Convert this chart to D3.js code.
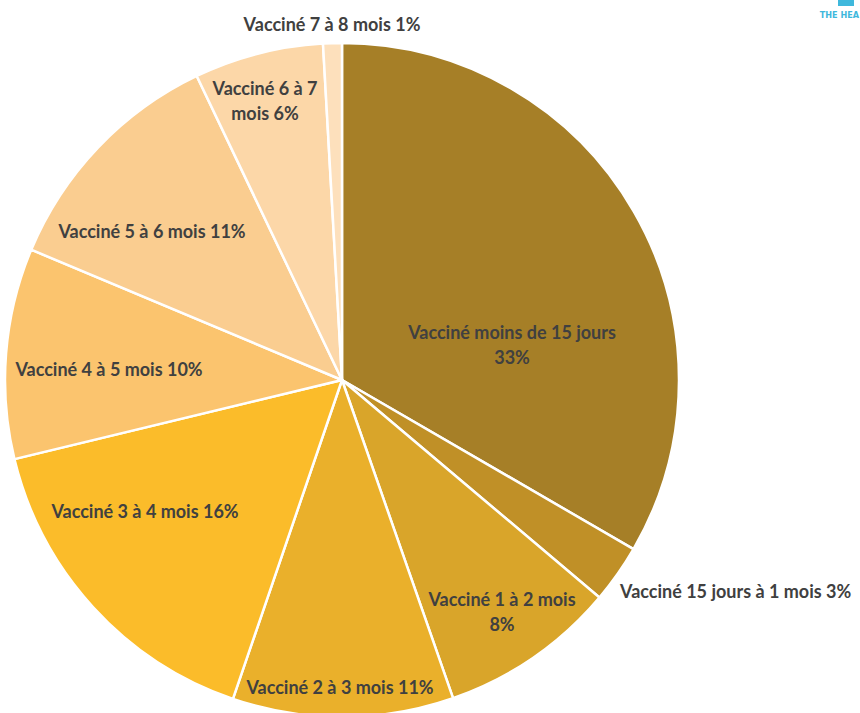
<!DOCTYPE html>
<html lang="fr">
<meta charset="utf-8">
<head>
  <script src="https://d3js.org/d3.v7.min.js"></script>
</head>
<body>
  <div id="my_dataviz"></div>
  <script>
    // slices, clockwise from 12 o'clock (share of the pie)
    var categories = ["Vacciné moins de 15 jours", "Vacciné 15 jours à 1 mois", "Vacciné 1 à 2 mois",
      "Vacciné 2 à 3 mois", "Vacciné 3 à 4 mois", "Vacciné 4 à 5 mois",
      "Vacciné 5 à 6 mois", "Vacciné 6 à 7 mois", "Vacciné 7 à 8 mois"];
    var values = [33.4, 2.8, 8.5, 10.6, 16.0, 10.1, 11.6, 6.2, 0.9];
    var pctLabels = ["33%", "3%", "8%", "11%", "16%", "10%", "11%", "6%", "1%"];
    var colors = ["#a67f27", "#c09027", "#d9a52a", "#eab02b", "#fbbc2a", "#fbc46e", "#facd90", "#fcd7a8", "#fde0bc"];

    var width = 860, height = 713;
    var cx = 342, cy = 380, radius = 337;

    // label layout: how the text wraps and its offset from the pie centre
    var labelLayout = [
      { wrap: "two", dx: 170, dy: -35, anchor: "middle" },
      { wrap: "one", dx: 278, dy: 212, anchor: "start" },
      { wrap: "two", dx: 160, dy: 232, anchor: "middle" },
      { wrap: "one", dx: -2, dy: 308, anchor: "middle" },
      { wrap: "one", dx: -197, dy: 132, anchor: "middle" },
      { wrap: "one", dx: -233, dy: -10, anchor: "middle" },
      { wrap: "one", dx: -190, dy: -148, anchor: "middle" },
      { wrap: "last", dx: -77, dy: -279, anchor: "middle" },
      { wrap: "one", dx: -10, dy: -355, anchor: "middle" }
    ];

    function labelLines(i) {
      var name = categories[i], p = pctLabels[i], w = labelLayout[i].wrap;
      if (w === "one") return [name + " " + p];
      if (w === "two") return [name, p];
      // "Vacciné 6 à 7" / "mois 6%"
      var k = name.lastIndexOf(" ");
      return [name.slice(0, k), name.slice(k + 1) + " " + p];
    }

    var svg = d3.select("#my_dataviz")
      .append("svg")
      .attr("width", width)
      .attr("height", height);

    var g = svg.append("g")
      .attr("transform", "translate(" + cx + "," + cy + ")");

    var pie = d3.pie().sort(null).value(function (d) { return d; });
    var arc = d3.arc().innerRadius(0).outerRadius(radius);

    g.selectAll(".slice")
      .data(pie(values))
      .enter()
      .append("path")
      .attr("class", "slice")
      .attr("d", arc)
      .attr("fill", function (d, i) { return colors[i]; })
      .attr("stroke", "#ffffff")
      .attr("stroke-width", 2.5)
      .attr("stroke-linejoin", "round");

    var lineH = 25;
    var labels = g.selectAll(".lbl")
      .data(labelLayout)
      .enter()
      .append("text")
      .attr("class", "lbl")
      .attr("text-anchor", function (d) { return d.anchor; })
      .attr("transform", function (d) { return "translate(" + d.dx + "," + d.dy + ")"; });

    labels.each(function (d, i) {
      var ls = labelLines(i);
      var t = d3.select(this);
      ls.forEach(function (s, j) {
        t.append("tspan")
          .attr("x", 0)
          .attr("y", (j - (ls.length - 1) / 2) * lineH)
          .attr("dy", "0.35em")
          .text(s);
      });
    });

    // logo fragment, top right (cut by the frame in the original)
    svg.append("rect").attr("x", 838).attr("y", 0).attr("width", 16).attr("height", 6).attr("fill", "#3fb8dc");
    svg.append("text").attr("x", 859).attr("y", 18)
      .attr("text-anchor", "end")
      .attr("class", "logo").text("THE HEA");
  </script>

  <style>
    body { margin: 0; background: #ffffff; }
    svg { display: block; }
    .lbl {
      font-family: Lato, "Open Sans", sans-serif;
      font-weight: bold;
      font-size: 18px;
      fill: #404040;
    }
    .logo {
      font-family: "Liberation Sans Narrow", "DejaVu Sans Condensed", sans-serif;
      font-weight: bold;
      font-size: 9px;
      fill: #3fb8dc;
    }
  </style>
</body>
</html>
